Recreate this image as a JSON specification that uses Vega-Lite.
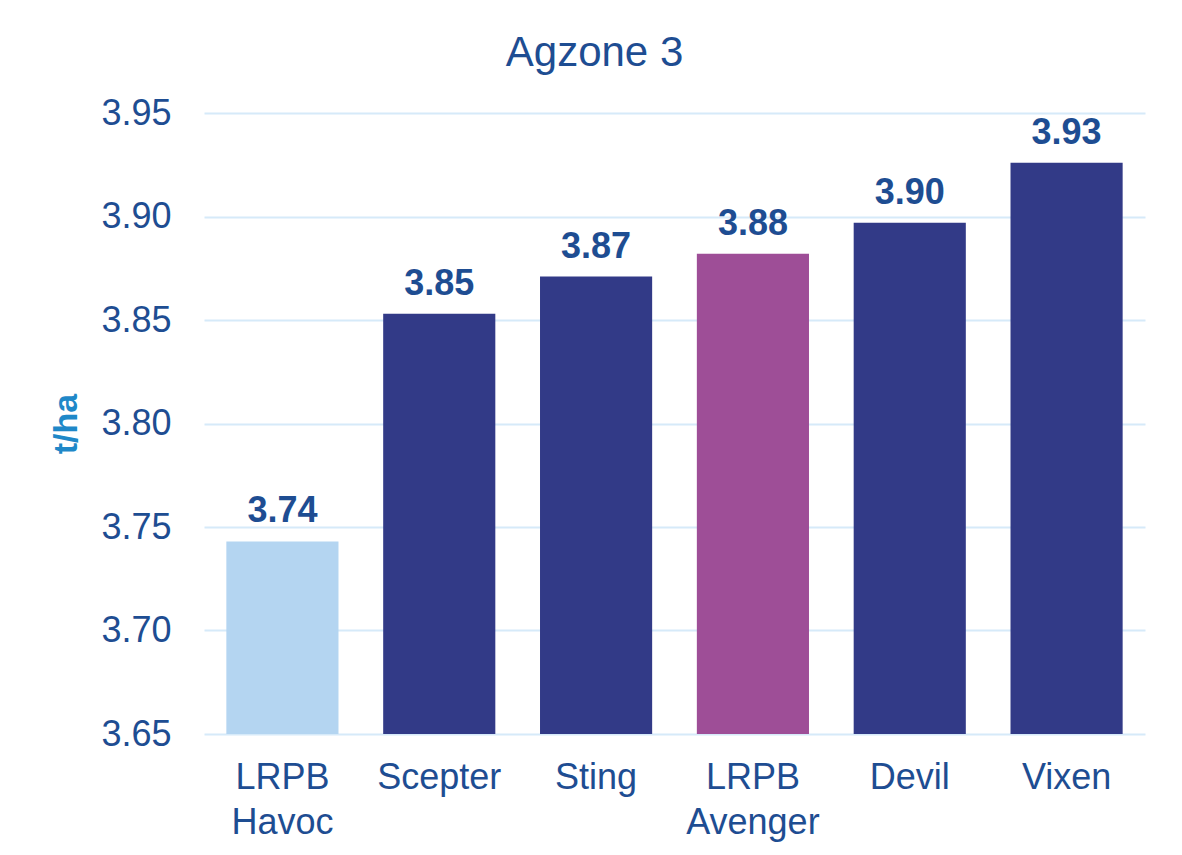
{
  "$schema": "https://vega.github.io/schema/vega-lite/v6.json",
  "width": 941,
  "height": 621,
  "autosize": {"type": "none"},
  "padding": {"left": 204, "top": 113, "right": 37, "bottom": 121},
  "background": "white",
  "title": {
    "text": "Agzone 3",
    "font": "Liberation Sans",
    "fontSize": 42,
    "fontWeight": "normal",
    "color": "#1e4d92",
    "anchor": "middle",
    "dx": -80,
    "baseline": "alphabetic",
    "offset": -13
  },
  "data": {
    "values": [
      {"variety": "LRPB Havoc", "yield": 3.743},
      {"variety": "Scepter", "yield": 3.853},
      {"variety": "Sting", "yield": 3.871},
      {"variety": "LRPB Avenger", "yield": 3.882},
      {"variety": "Devil", "yield": 3.897},
      {"variety": "Vixen", "yield": 3.926}
    ]
  },
  "encoding": {
    "x": {
      "field": "variety",
      "type": "nominal",
      "sort": null,
      "scale": {"paddingInner": 0.285, "paddingOuter": 0.1425},
      "axis": {
        "title": null,
        "labelAngle": 0,
        "labelExpr": "split(datum.label, ' ')",
        "labelFont": "Liberation Sans",
        "labelFontSize": 36,
        "labelColor": "#1e4d92",
        "labelLineHeight": 45,
        "labelPadding": 26,
        "ticks": false,
        "domain": false,
        "grid": false
      }
    },
    "y": {
      "field": "yield",
      "type": "quantitative",
      "scale": {"domain": [3.65, 3.95], "zero": false, "nice": false},
      "axis": {
        "title": "t/ha",
        "titleFont": "Liberation Sans",
        "titleFontSize": 34,
        "titleFontWeight": "bold",
        "titleColor": "#1f88c8",
        "titlePadding": 17,
        "values": [3.65, 3.7, 3.75, 3.8, 3.85, 3.9, 3.95],
        "format": ".2f",
        "labelFont": "Liberation Sans",
        "labelFontSize": 36,
        "labelColor": "#1e4d92",
        "labelPadding": 33,
        "ticks": false,
        "domain": false,
        "grid": true,
        "gridColor": "#d6eaf9",
        "gridWidth": 2
      }
    }
  },
  "layer": [
    {
      "mark": {"type": "bar", "clip": true},
      "encoding": {
        "color": {
          "field": "variety",
          "type": "nominal",
          "legend": null,
          "scale": {
            "domain": ["LRPB Havoc", "Scepter", "Sting", "LRPB Avenger", "Devil", "Vixen"],
            "range": ["#b4d5f1", "#323a87", "#323a87", "#9e4e97", "#323a87", "#323a87"]
          }
        }
      }
    },
    {
      "mark": {
        "type": "text",
        "font": "Liberation Sans",
        "fontSize": 36,
        "fontWeight": "bold",
        "color": "#1e4d92",
        "baseline": "alphabetic",
        "dy": -19
      },
      "encoding": {
        "text": {"field": "yield", "type": "quantitative", "format": ".2f"}
      }
    }
  ],
  "config": {"view": {"stroke": null}}
}
